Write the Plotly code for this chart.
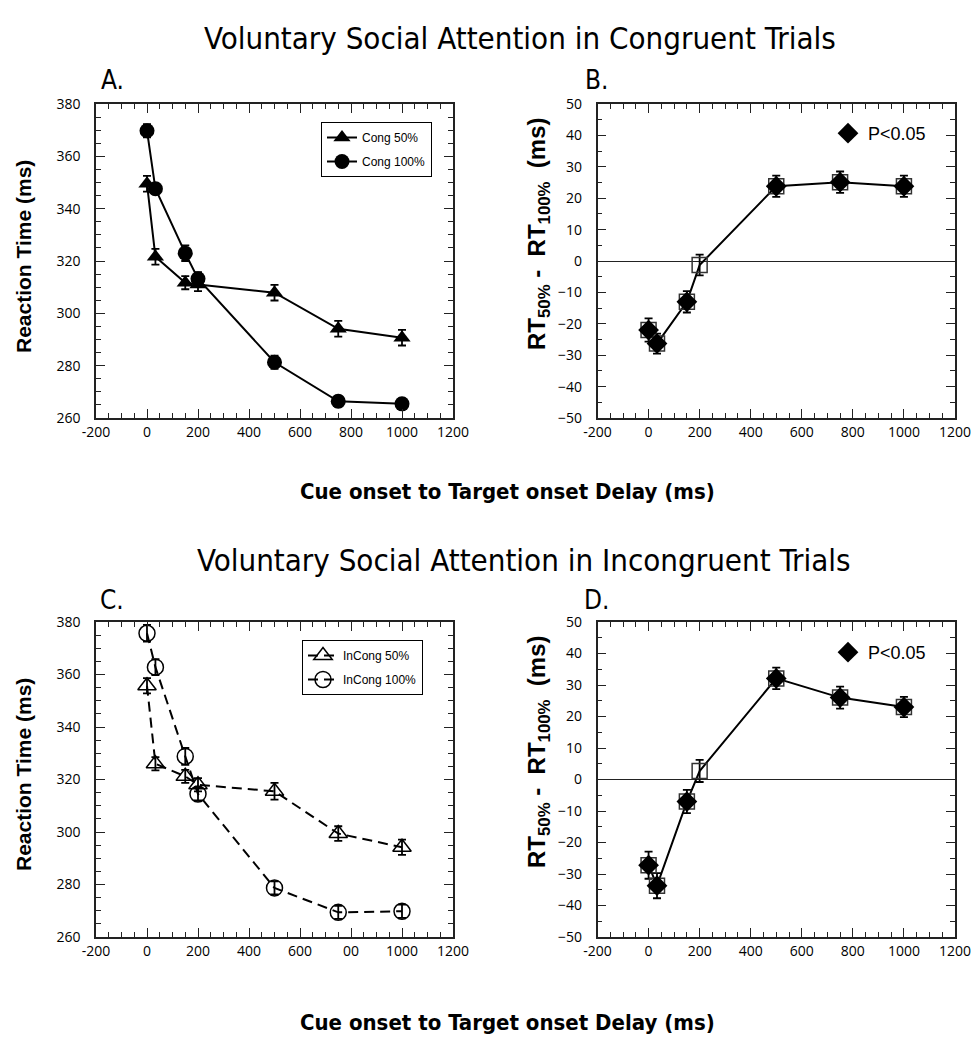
import plotly.graph_objects as go

# ---------------- data ----------------
delays = [0, 33, 150, 200, 500, 750, 1000]

cong50 = [349.5, 321.6, 311.7, 311.0, 307.9, 294.1, 290.7]
cong50_err = [3.0, 3.0, 2.5, 2.5, 3.0, 3.0, 3.0]
cong100 = [369.8, 347.6, 323.0, 313.2, 281.3, 266.4, 265.4]
cong100_err = [2.5, 2.0, 3.0, 2.5, 2.5, 2.0, 2.0]

diff_cong = [-22.0, -26.3, -13.0, -1.3, 23.8, 25.1, 23.8]
diff_cong_err = [3.7, 3.2, 3.4, 3.3, 3.4, 3.4, 3.4]
sig_cong = [True, True, True, False, True, True, True]

incong50 = [355.7, 326.0, 321.2, 318.0, 315.5, 299.4, 294.2]
incong50_err = [2.9, 2.5, 2.5, 2.5, 3.2, 2.8, 2.9]
incong100 = [375.7, 362.8, 328.8, 314.5, 278.7, 269.4, 269.8]
incong100_err = [3.2, 3.0, 3.2, 2.5, 2.5, 2.5, 2.5]

diff_incong = [-27.2, -33.7, -7.0, 2.7, 32.1, 26.0, 23.0]
diff_incong_err = [4.3, 4.0, 3.7, 3.5, 3.4, 3.5, 3.2]
sig_incong = [True, True, True, False, True, True, True]

x_ticks = [-200, 0, 200, 400, 600, 800, 1000, 1200]
x_ticktext_top = ["-200", "0", "200", "400", "600", "800", "1000", "1200"]
x_ticktext_c = ["-200", "0", "200", "400", "600", "00", "1000", "1200"]

# ---------------- style ----------------
NARROW = "Liberation Sans Narrow, Arial Narrow, DejaVu Sans Condensed, sans-serif"
ARIAL = "Liberation Sans, Arial, sans-serif"
TICKFONT = dict(family="Open Sans, Liberation Sans, sans-serif", size=14, color="black")
AXC = "#222222"

fig = go.Figure()


def err(vals):
    return dict(type="data", array=vals, visible=True, color="black",
                thickness=1.8, width=4)


# Panel A
fig.add_trace(go.Scatter(x=delays, y=cong50, error_y=err(cong50_err), name="Cong 50%",
                         mode="lines+markers", line=dict(color="black", width=2),
                         marker=dict(symbol="triangle-up", size=15, color="black"),
                         xaxis="x", yaxis="y", legend="legend", legendgroup="a1"))
fig.add_trace(go.Scatter(x=delays, y=cong100, error_y=err(cong100_err), name="Cong 100%",
                         mode="lines+markers", line=dict(color="black", width=2),
                         marker=dict(symbol="circle", size=15, color="black"),
                         xaxis="x", yaxis="y", legend="legend", legendgroup="a2"))

# Panel B
fig.add_trace(go.Scatter(x=delays, y=diff_cong, error_y=err(diff_cong_err), showlegend=False,
                         mode="lines+markers", line=dict(color="black", width=2),
                         marker=dict(symbol="square-open", size=15, color="#333333",
                                     line=dict(width=1.5)),
                         xaxis="x2", yaxis="y2"))
fig.add_trace(go.Scatter(x=[d for d, s in zip(delays, sig_cong) if s],
                         y=[v for v, s in zip(diff_cong, sig_cong) if s],
                         name="P<0.05", mode="markers",
                         marker=dict(symbol="diamond", size=16, color="black"),
                         xaxis="x2", yaxis="y2", legend="legend3"))

# Panel C
fig.add_trace(go.Scatter(x=delays, y=incong50, error_y=err(incong50_err), name="InCong 50%",
                         mode="lines+markers", line=dict(color="black", width=2, dash="10px,6px"),
                         marker=dict(symbol="triangle-up-open", size=16, color="black",
                                     line=dict(width=1.5)),
                         xaxis="x3", yaxis="y3", legend="legend2", legendgroup="c1"))
fig.add_trace(go.Scatter(x=delays, y=incong100, error_y=err(incong100_err), name="InCong 100%",
                         mode="lines+markers", line=dict(color="black", width=2, dash="10px,6px"),
                         marker=dict(symbol="circle-open", size=16, color="black",
                                     line=dict(width=1.5)),
                         xaxis="x3", yaxis="y3", legend="legend2", legendgroup="c2"))

# Panel D
fig.add_trace(go.Scatter(x=delays, y=diff_incong, error_y=err(diff_incong_err), showlegend=False,
                         mode="lines+markers", line=dict(color="black", width=2),
                         marker=dict(symbol="square-open", size=15, color="#333333",
                                     line=dict(width=1.5)),
                         xaxis="x4", yaxis="y4"))
fig.add_trace(go.Scatter(x=[d for d, s in zip(delays, sig_incong) if s],
                         y=[v for v, s in zip(diff_incong, sig_incong) if s],
                         name="P<0.05", mode="markers",
                         marker=dict(symbol="diamond", size=16, color="black"),
                         xaxis="x4", yaxis="y4", legend="legend4"))


def xaxis(domain, anchor, ticktext):
    return dict(domain=domain, anchor=anchor, range=[-200, 1200], automargin=False,
                tickmode="array", tickvals=x_ticks, ticktext=ticktext,
                ticks="inside", ticklen=9, tickwidth=1.2, tickcolor=AXC,
                minor=dict(ticks="inside", ticklen=5, dtick=50, tick0=0,
                           tickcolor=AXC, tickwidth=1.2),
                mirror="allticks", showline=True, linecolor=AXC, linewidth=1.5,
                showgrid=False, zeroline=False, tickfont=TICKFONT, ticklabelstandoff=0)


def yaxis(domain, anchor, rng, dtick, minor, zero):
    return dict(domain=domain, anchor=anchor, range=rng, dtick=dtick, tick0=0,
                automargin=False,
                ticks="inside", ticklen=9, tickwidth=1.2, tickcolor=AXC,
                minor=dict(ticks="inside", ticklen=5, dtick=minor, tick0=0,
                           tickcolor=AXC, tickwidth=1.2),
                mirror="allticks", showline=True, linecolor=AXC, linewidth=1.5,
                showgrid=False, zeroline=zero, zerolinecolor=AXC, zerolinewidth=1.3,
                tickfont=TICKFONT, ticklabelstandoff=11)


W, H = 975, 1050
dxL = [96 / W, 453 / W]
dxR = [597.5 / W, 955 / W]
dyT = [1 - 418 / H, 1 - 104 / H]
dyB = [1 - 937 / H, 1 - 622 / H]

legend_common = dict(bgcolor="white", bordercolor="black", borderwidth=1,
                     font=dict(family=ARIAL, size=12, color="black"),
                     xanchor="right", yanchor="top", traceorder="grouped",
                     tracegroupgap=5, itemsizing="trace")
legend_sig = dict(bgcolor="rgba(0,0,0,0)", borderwidth=0,
                  font=dict(family=ARIAL, size=18, color="black"),
                  xanchor="left", yanchor="top")

fig.update_layout(
    width=W, height=H, margin=dict(l=0, r=0, t=0, b=0, autoexpand=False),
    paper_bgcolor="white", plot_bgcolor="white",
    xaxis=xaxis(dxL, "y", x_ticktext_top),
    yaxis=yaxis(dyT, "x", [260, 380], 20, 5, False),
    xaxis2=xaxis(dxR, "y2", x_ticktext_top),
    yaxis2=yaxis(dyT, "x2", [-50, 50], 10, 5, True),
    xaxis3=xaxis(dxL, "y3", x_ticktext_c),
    yaxis3=yaxis(dyB, "x3", [260, 380], 20, 5, False),
    xaxis4=xaxis(dxR, "y4", x_ticktext_top),
    yaxis4=yaxis(dyB, "x4", [-50, 50], 10, 5, True),
    legend=dict(legend_common, x=432 / W, y=1 - 122 / H),
    legend2=dict(legend_common, x=423 / W, y=1 - 640 / H),
    legend3=dict(legend_sig, x=828 / W, y=1 - 115 / H),
    legend4=dict(legend_sig, x=828 / W, y=1 - 634 / H),
)

ann = []


def text(x, y, t, size, family, bold=False, angle=0):
    ann.append(dict(x=x / W, y=1 - y / H, xref="paper", yref="paper",
                    text=f"<b>{t}</b>" if bold else t, showarrow=False,
                    textangle=angle, xanchor="center", yanchor="middle",
                    font=dict(family=family, size=size, color="black")))


text(520, 38, "Voluntary Social Attention in Congruent Trials", 31, NARROW)
text(112, 80, "A.", 26, NARROW)
text(596, 80, "B.", 26, NARROW)
text(508, 491, "Cue onset to Target onset Delay (ms)", 22, NARROW, bold=True)
text(524, 560, "Voluntary Social Attention in Incongruent Trials", 31, NARROW)
text(112, 600, "C.", 26, NARROW)
text(596, 600, "D.", 26, NARROW)
text(508, 1022, "Cue onset to Target onset Delay (ms)", 22, NARROW, bold=True)
text(23, 257, "Reaction Time (ms)", 21, ARIAL, bold=True, angle=-90)
text(23, 775, "Reaction Time (ms)", 21, ARIAL, bold=True, angle=-90)
text(538, 234, "RT<sub>50%</sub> -  RT<sub>100%</sub>  (ms)", 24, ARIAL, bold=True, angle=-90)
text(538, 752, "RT<sub>50%</sub> -  RT<sub>100%</sub>  (ms)", 24, ARIAL, bold=True, angle=-90)

fig.update_layout(annotations=ann)
fig.write_html("out.html", config={"displayModeBar": False},
               post_script="document.body.style.margin='0px';document.body.style.padding='0px';")
